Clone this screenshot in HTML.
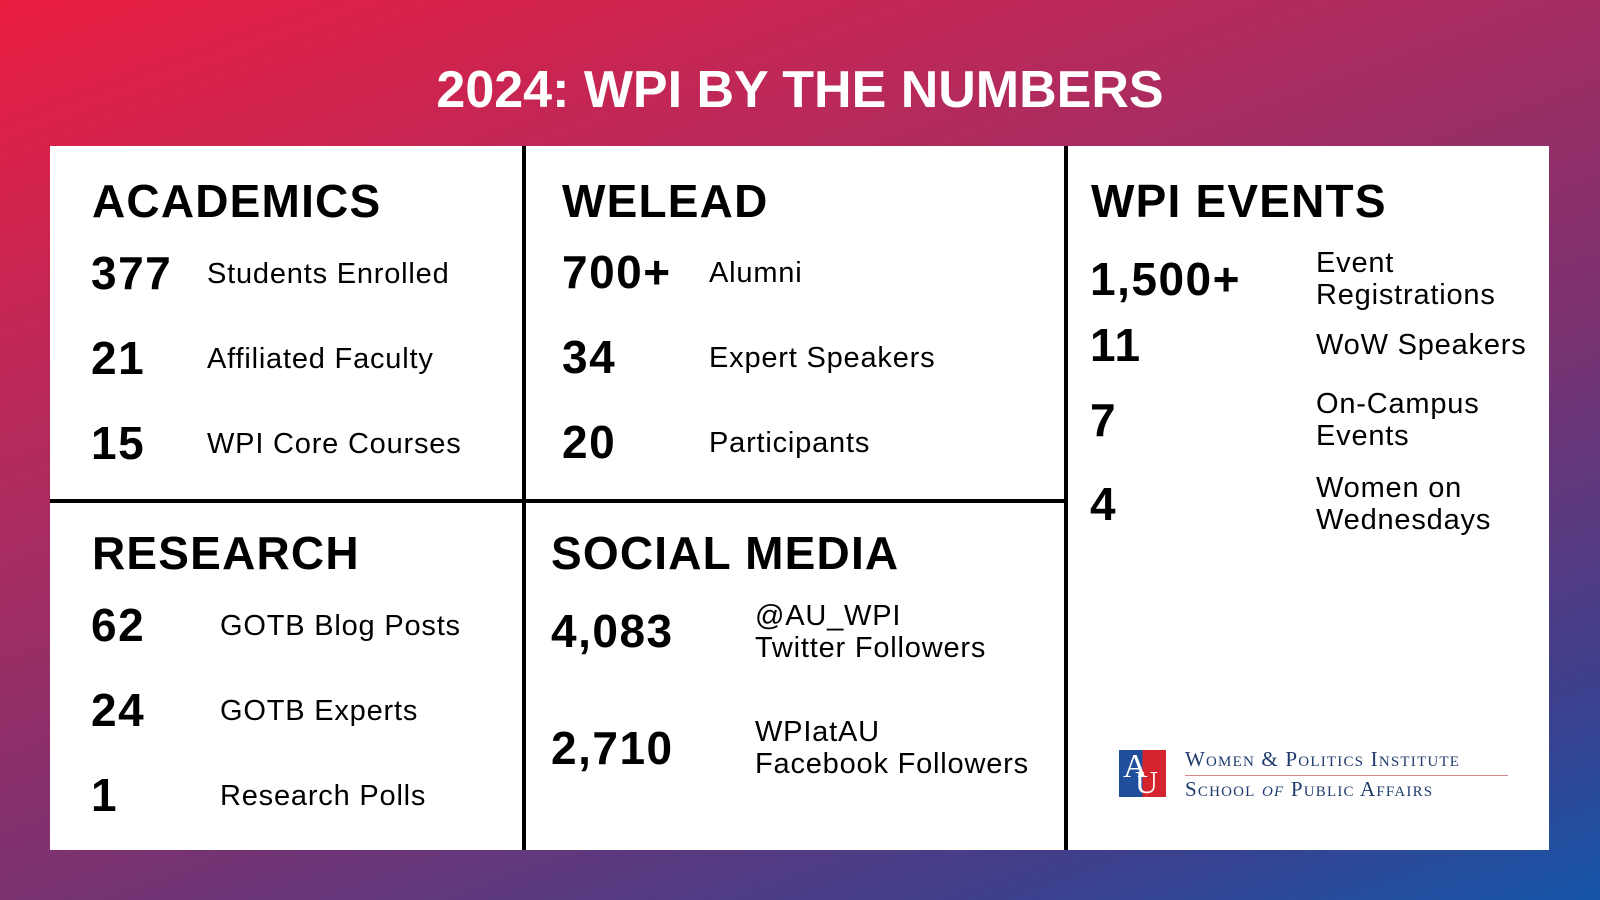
<!DOCTYPE html>
<html><head><meta charset="utf-8"><style>
body{margin:0;width:1600px;height:900px;overflow:hidden;font-family:"Liberation Sans",sans-serif}
#bg{position:absolute;left:0;top:0;width:1600px;height:900px;background:linear-gradient(160deg,#ea1d40 0%,#b52a5c 30%,#7c3270 60%,#3e3f8c 85%,#1555a8 100%)}
.a{position:absolute;white-space:nowrap;color:#000}
.h{font-weight:bold;font-size:46px;line-height:46px;letter-spacing:1.2px}
.n{font-weight:bold;font-size:46px;line-height:50px;transform:translateY(-50%);letter-spacing:1.5px}
.l{font-size:29px;line-height:32px;transform:translateY(-50%);letter-spacing:0.8px}
.ln{position:absolute;background:#000}
.lg{position:absolute;white-space:nowrap;font-family:'Liberation Serif',serif;font-size:21px;color:#1f3b6e;font-variant:small-caps;letter-spacing:1.2px}
</style></head><body>
<div id="bg"></div>
<div class="a" style="left:0;width:1600px;text-align:center;top:62px;color:#fff;font-weight:bold;font-size:52px;line-height:56px">2024: WPI BY THE NUMBERS</div>
<div style="position:absolute;left:50px;top:146px;width:1499px;height:704px;background:#fff"></div>
<div class="ln" style="left:522px;top:146px;width:4px;height:704px"></div>
<div class="ln" style="left:1064px;top:146px;width:4px;height:704px"></div>
<div class="ln" style="left:50px;top:499px;width:1016px;height:4px"></div>

<div class="a h" style="left:92px;top:178px">ACADEMICS</div>
<div class="a n" style="left:91px;top:273px">377</div>
<div class="a l" style="left:207px;top:274px">Students Enrolled</div>
<div class="a n" style="left:91px;top:358px">21</div>
<div class="a l" style="left:207px;top:359px">Affiliated Faculty</div>
<div class="a n" style="left:91px;top:443px">15</div>
<div class="a l" style="left:207px;top:444px">WPI Core Courses</div>

<div class="a h" style="left:92px;top:530px">RESEARCH</div>
<div class="a n" style="left:91px;top:625px">62</div>
<div class="a l" style="left:220px;top:626px">GOTB Blog Posts</div>
<div class="a n" style="left:91px;top:710px">24</div>
<div class="a l" style="left:220px;top:711px">GOTB Experts</div>
<div class="a n" style="left:91px;top:795px">1</div>
<div class="a l" style="left:220px;top:796px">Research Polls</div>

<div class="a h" style="left:562px;top:178px">WELEAD</div>
<div class="a n" style="left:562px;top:272px">700+</div>
<div class="a l" style="left:709px;top:273px">Alumni</div>
<div class="a n" style="left:562px;top:357px">34</div>
<div class="a l" style="left:709px;top:358px">Expert Speakers</div>
<div class="a n" style="left:562px;top:442px">20</div>
<div class="a l" style="left:709px;top:443px">Participants</div>

<div class="a h" style="left:551px;top:530px">SOCIAL MEDIA</div>
<div class="a n" style="left:551px;top:631px">4,083</div>
<div class="a l" style="left:755px;top:632px">@AU_WPI<br>Twitter Followers</div>
<div class="a n" style="left:551px;top:748px">2,710</div>
<div class="a l" style="left:755px;top:748px">WPIatAU<br>Facebook Followers</div>

<div class="a h" style="left:1091px;top:178px">WPI EVENTS</div>
<div class="a n" style="left:1090px;top:279px">1,500+</div>
<div class="a l" style="left:1316px;top:279px">Event<br>Registrations</div>
<div class="a n" style="left:1090px;top:345px">11</div>
<div class="a l" style="left:1316px;top:345px">WoW Speakers</div>
<div class="a n" style="left:1090px;top:420px">7</div>
<div class="a l" style="left:1316px;top:420px">On-Campus<br>Events</div>
<div class="a n" style="left:1090px;top:504px">4</div>
<div class="a l" style="left:1316px;top:504px">Women on<br>Wednesdays</div>

<div style="position:absolute;left:1119px;top:750px;width:47px;height:47px;background:linear-gradient(90deg,#1f4e9c 50%,#d6242f 50%);overflow:hidden">
<div style="position:absolute;left:4px;top:-2px;font-family:'Liberation Serif',serif;font-size:34px;color:#fff">A</div>
<div style="position:absolute;left:16px;top:14px;font-family:'Liberation Serif',serif;font-size:32px;color:#fff">U</div></div>
<div class="lg" style="left:1185px;top:747px">Women &amp; Politics Institute</div>
<div style="position:absolute;left:1185px;top:775px;width:323px;height:1px;background:#d9858c"></div>
<div class="lg" style="left:1185px;top:777px">School <i>of</i> Public Affairs</div>
</body></html>
